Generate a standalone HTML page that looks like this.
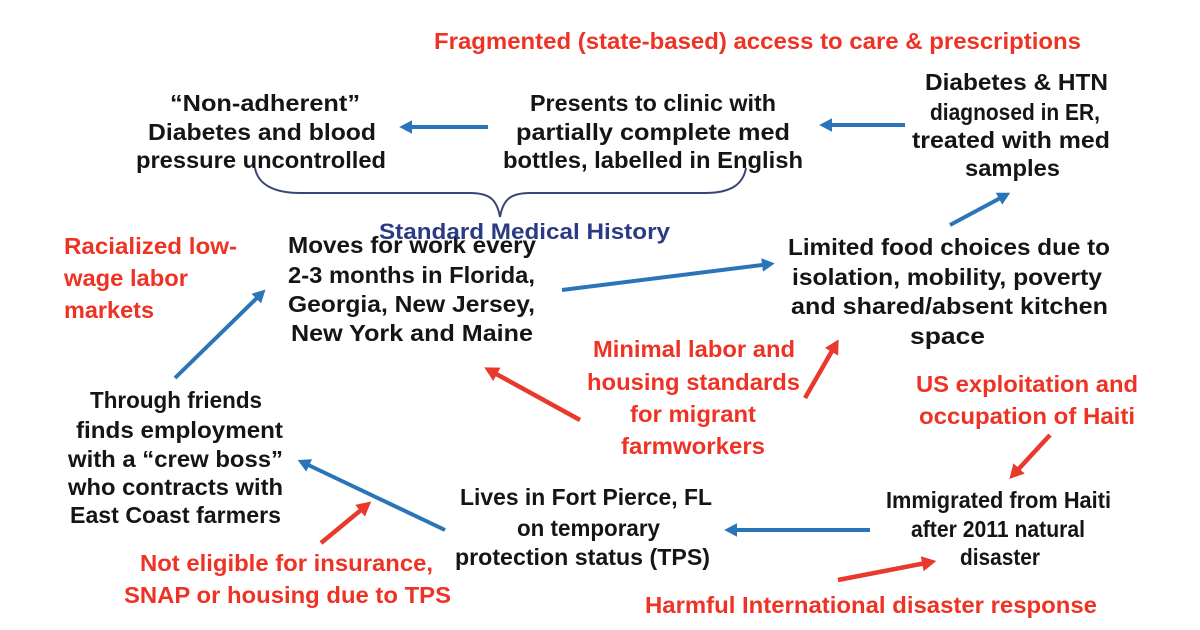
<!DOCTYPE html>
<html><head><meta charset="utf-8"><style>
html,body{margin:0;padding:0;background:#fff;width:1200px;height:630px;overflow:hidden}
svg{display:block}
.b{font-family:"Liberation Sans",sans-serif;font-weight:bold;font-size:23.5px;fill:#151515}
.r{font-family:"Liberation Sans",sans-serif;font-weight:bold;font-size:23px;fill:#ee3325}
</style></head><body>
<svg width="1200" height="630" viewBox="0 0 1200 630">
<defs>
<marker id="bh" markerWidth="4" markerHeight="4" refX="2" refY="2" orient="auto" markerUnits="strokeWidth"><path d="M0,0.3 L3.2,2 L0,3.7 Z" fill="#2a75b8"/></marker>
<marker id="rh" markerWidth="4" markerHeight="4" refX="2" refY="2" orient="auto" markerUnits="strokeWidth"><path d="M0,0.3 L3.2,2 L0,3.7 Z" fill="#e8392c"/></marker>
</defs>
<g stroke="#2a75b8" stroke-width="4" fill="none" marker-end="url(#bh)">
<line x1="488" y1="127" x2="404" y2="127"/>
<line x1="905" y1="125" x2="824" y2="125"/>
<line x1="562" y1="290" x2="770" y2="264"/>
<line x1="950" y1="225" x2="1006" y2="195"/>
<line x1="175" y1="378" x2="262" y2="293"/>
<line x1="870" y1="530" x2="729" y2="530"/>
<line x1="445" y1="530" x2="302" y2="462"/>
</g>
<g stroke="#e8392c" stroke-width="4.5" fill="none" marker-end="url(#rh)">
<line x1="580" y1="420" x2="489" y2="370"/>
<line x1="805" y1="398" x2="836" y2="344"/>
<line x1="1050" y1="435" x2="1013" y2="475"/>
<line x1="321" y1="543" x2="367" y2="505"/>
<line x1="838" y1="580" x2="931" y2="562"/>
</g>
<path d="M255,168 C258,185 275,193 300,193 L470,193 C490,193 497,200 500,217 C503,200 510,193 530,193 L705,193 C730,193 743,185 746,168" stroke="#3a4478" stroke-width="2" fill="none"/>
<text class="r" x="434" y="49" textLength="647" lengthAdjust="spacingAndGlyphs">Fragmented (state-based) access to care &amp; prescriptions</text>
<g class="b" text-anchor="start">
<text x="170" y="111" textLength="190" lengthAdjust="spacingAndGlyphs">“Non-adherent”</text>
<text x="148" y="140" textLength="228" lengthAdjust="spacingAndGlyphs">Diabetes and blood</text>
<text x="136" y="168" textLength="250" lengthAdjust="spacingAndGlyphs">pressure uncontrolled</text>
<text x="530" y="111" textLength="246" lengthAdjust="spacingAndGlyphs">Presents to clinic with</text>
<text x="516" y="140" textLength="274" lengthAdjust="spacingAndGlyphs">partially complete med</text>
<text x="503" y="168" textLength="300" lengthAdjust="spacingAndGlyphs">bottles, labelled in English</text>
<text x="925" y="90" textLength="183" lengthAdjust="spacingAndGlyphs">Diabetes &amp; HTN</text>
<text x="930" y="120" textLength="170" lengthAdjust="spacingAndGlyphs">diagnosed in ER,</text>
<text x="912" y="148" textLength="198" lengthAdjust="spacingAndGlyphs">treated with med</text>
<text x="965" y="176" textLength="95" lengthAdjust="spacingAndGlyphs">samples</text>
<text x="288" y="253" textLength="248" lengthAdjust="spacingAndGlyphs">Moves for work every</text>
<text x="288" y="283" textLength="247" lengthAdjust="spacingAndGlyphs">2-3 months in Florida,</text>
<text x="288" y="312" textLength="247" lengthAdjust="spacingAndGlyphs">Georgia, New Jersey,</text>
<text x="291" y="341" textLength="242" lengthAdjust="spacingAndGlyphs">New York and Maine</text>
<text x="788" y="255" textLength="322" lengthAdjust="spacingAndGlyphs">Limited food choices due to</text>
<text x="792" y="285" textLength="310" lengthAdjust="spacingAndGlyphs">isolation, mobility, poverty</text>
<text x="791" y="314" textLength="317" lengthAdjust="spacingAndGlyphs">and shared/absent kitchen</text>
<text x="910" y="344" textLength="75" lengthAdjust="spacingAndGlyphs">space</text>
<text x="90" y="408" textLength="172" lengthAdjust="spacingAndGlyphs">Through friends</text>
<text x="76" y="438" textLength="207" lengthAdjust="spacingAndGlyphs">finds employment</text>
<text x="68" y="467" textLength="215" lengthAdjust="spacingAndGlyphs">with a “crew boss”</text>
<text x="68" y="495" textLength="215" lengthAdjust="spacingAndGlyphs">who contracts with</text>
<text x="70" y="523" textLength="211" lengthAdjust="spacingAndGlyphs">East Coast farmers</text>
<text x="460" y="505" textLength="252" lengthAdjust="spacingAndGlyphs">Lives in Fort Pierce, FL</text>
<text x="517" y="536" textLength="143" lengthAdjust="spacingAndGlyphs">on temporary</text>
<text x="455" y="565" textLength="255" lengthAdjust="spacingAndGlyphs">protection status (TPS)</text>
<text x="886" y="508" textLength="225" lengthAdjust="spacingAndGlyphs">Immigrated from Haiti</text>
<text x="911" y="537" textLength="174" lengthAdjust="spacingAndGlyphs">after 2011 natural</text>
<text x="960" y="565" textLength="80" lengthAdjust="spacingAndGlyphs">disaster</text>
</g>
<text x="379" y="239" font-family="Liberation Sans,sans-serif" font-weight="bold" font-size="22" fill="#2b3a85" textLength="291" lengthAdjust="spacingAndGlyphs">Standard Medical History</text>
<g class="r">
<text x="64" y="254" textLength="173" lengthAdjust="spacingAndGlyphs">Racialized low-</text>
<text x="64" y="286" textLength="124" lengthAdjust="spacingAndGlyphs">wage labor</text>
<text x="64" y="318" textLength="90" lengthAdjust="spacingAndGlyphs">markets</text>
<text x="593" y="357" textLength="202" lengthAdjust="spacingAndGlyphs">Minimal labor and</text>
<text x="587" y="390" textLength="213" lengthAdjust="spacingAndGlyphs">housing standards</text>
<text x="630" y="422" textLength="126" lengthAdjust="spacingAndGlyphs">for migrant</text>
<text x="621" y="454" textLength="144" lengthAdjust="spacingAndGlyphs">farmworkers</text>
<text x="916" y="392" textLength="222" lengthAdjust="spacingAndGlyphs">US exploitation and</text>
<text x="919" y="424" textLength="216" lengthAdjust="spacingAndGlyphs">occupation of Haiti</text>
<text x="140" y="571" textLength="293" lengthAdjust="spacingAndGlyphs">Not eligible for insurance,</text>
<text x="124" y="603" textLength="327" lengthAdjust="spacingAndGlyphs">SNAP or housing due to TPS</text>
<text x="645" y="613" textLength="452" lengthAdjust="spacingAndGlyphs">Harmful International disaster response</text>
</g>
</svg>
</body></html>
